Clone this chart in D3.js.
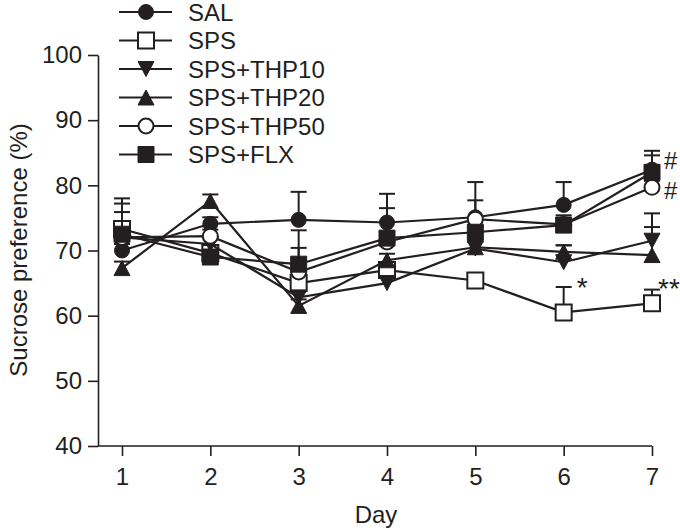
<!DOCTYPE html>
<html>
<head>
<meta charset="utf-8">
<script src="https://cdn.jsdelivr.net/npm/d3@7"></script>
<style>
  body { margin: 0; background: #fff; }
  text { font-family: "Liberation Sans", Arial, Helvetica, sans-serif; fill: #231f20; }
</style>
</head>
<body>
<svg id="chart" width="680" height="530"></svg>
<script>
// days and group means (sucrose preference, %)
var days = [1, 2, 3, 4, 5, 6, 7];
var groups = ["SAL", "SPS", "SPS+THP10", "SPS+THP20", "SPS+THP50", "SPS+FLX"];
var legendLabels = ["SAL", "SPS", "SPS+THP10", "SPS+THP20", "SPS+THP50", "SPS+FLX"];
var sal   = [70.0, 74.1, 74.7, 74.3, 75.1, 77.0, 82.4];
var sps   = [73.3, 69.6, 65.0, 67.0, 65.4, 60.5, 61.9];
var thp10 = [72.0, 71.0, 62.8, 65.0, 70.3, 68.2, 71.5];
var thp20 = [67.3, 77.6, 61.5, 68.5, 70.5, 69.8, 69.3];
var thp50 = [72.0, 72.2, 66.7, 71.3, 74.8, 74.0, 79.7];
var flx   = [72.5, 69.0, 67.9, 71.9, 72.8, 73.9, 82.0];
// upper error (SEM)
var salErr   = [1.0, 1.0, 4.3, 4.4, 5.4, 3.5, 2.9];
var spsErr   = [4.7, 1.0, 1.0, 1.0, 1.0, 3.9, 2.1];
var thp10Err = [5.2, 1.0, 1.0, 1.0, 1.0, 2.6, 4.2];
var thp20Err = [1.0, 1.0, 1.0, 1.0, 1.0, 1.0, 4.3];
var thp50Err = [1.0, 1.0, 6.4, 1.0, 2.9, 1.0, 1.0];
var flxErr   = [3.4, 1.0, 2.5, 4.6, 1.0, 1.5, 2.6];
var yTicks = [40, 50, 60, 70, 80, 90, 100];
// significance marks: [day, level, label]
var marks = [[6, 65.9, "*"], [7, 65.8, "**"], [7, 85.1, "#"], [7, 80.5, "#"]];

var series = [
  {name: groups[0], vals: sal,   err: salErr,   shape: "circle", open: false},
  {name: groups[1], vals: sps,   err: spsErr,   shape: "square", open: true},
  {name: groups[2], vals: thp10, err: thp10Err, shape: "down",   open: false},
  {name: groups[3], vals: thp20, err: thp20Err, shape: "up",     open: false},
  {name: groups[4], vals: thp50, err: thp50Err, shape: "circle", open: true},
  {name: groups[5], vals: flx,   err: flxErr,   shape: "square", open: false}
];

var svg = d3.select("#chart");
var ink = "#231f20";

var x = d3.scaleLinear().domain([1, 7]).range([122, 652]);
var y = d3.scaleLinear().domain([40, 100]).range([446, 55]);

function shapePath(s) {
  if (s == "circle") return "M-7.5,0A7.5,7.5 0 1,0 7.5,0A7.5,7.5 0 1,0 -7.5,0Z";
  if (s == "square") return "M-8,-8H8V8H-8Z";
  if (s == "up") return "M0,-7.5L8,7.5L-8,7.5Z";
  return "M0,7.5L8,-7.5L-8,-7.5Z";
}

function drawMarker(g, s, open) {
  g.append("path")
    .attr("d", shapePath(s))
    .attr("fill", open ? "#fff" : ink)
    .attr("stroke", ink)
    .attr("stroke-width", open ? 2 : 1);
}

// axes
var yAxis = d3.axisLeft(y).tickValues(yTicks).tickSize(10).tickSizeOuter(0).tickPadding(6)
  .tickFormat(d3.format("d"));
var gy = svg.append("g").attr("transform", "translate(98,0)").call(yAxis);
var xAxis = d3.axisBottom(x).tickValues(days).tickSize(10).tickSizeOuter(0).tickPadding(12)
  .tickFormat(d3.format("d"));
var gx = svg.append("g").attr("transform", "translate(0,446)").call(xAxis);
gx.select(".domain").attr("d", "M" + (x.range()[0] - 24) + ",0H" + x.range()[1]);
[gx, gy].forEach(function(g) {
  g.selectAll("path, line").attr("stroke", ink).attr("stroke-width", 1.6);
  g.selectAll("text").style("font-size", "24px").attr("fill", ink);
});

svg.append("text")
  .attr("transform", "translate(27,250) rotate(-90)")
  .attr("text-anchor", "middle")
  .style("font-size", "24px")
  .text("Sucrose preference (%)");
svg.append("text")
  .attr("x", 376).attr("y", 523)
  .attr("text-anchor", "middle")
  .style("font-size", "24px")
  .text("Day");

// data
var line = d3.line().x(function(d, i) { return x(days[i]); }).y(function(d) { return y(d); });
series.forEach(function(s) {
  var g = svg.append("g");
  g.append("path").attr("d", line(s.vals))
    .attr("fill", "none").attr("stroke", ink).attr("stroke-width", 2.2);
  s.vals.forEach(function(v, i) {
    var cx = x(days[i]), top = y(v + s.err[i]);
    g.append("line").attr("x1", cx).attr("x2", cx).attr("y1", y(v)).attr("y2", top)
      .attr("stroke", ink).attr("stroke-width", 2);
    g.append("line").attr("x1", cx - 8).attr("x2", cx + 8).attr("y1", top).attr("y2", top)
      .attr("stroke", ink).attr("stroke-width", 2);
  });
  s.vals.forEach(function(v, i) {
    var m = g.append("g").attr("transform", "translate(" + x(days[i]) + "," + y(v) + ")");
    drawMarker(m, s.shape, s.open);
  });
});

// significance marks, cap top sits at the level
marks.forEach(function(m) {
  var star = m[2].charAt(0) == "*";
  var dx = m[2] == "*" ? 13 : (m[2] == "**" ? 6 : 12);
  svg.append("text")
    .attr("x", x(m[0]) + dx)
    .attr("y", y(m[1]) + (star ? 20 : 17))
    .style("font-size", star ? "28px" : "24px")
    .text(m[2]);
});

// legend
var legend = svg.append("g");
series.forEach(function(s, i) {
  var ly = 12 + i * 28.5;
  legend.append("line").attr("x1", 119).attr("x2", 172).attr("y1", ly).attr("y2", ly)
    .attr("stroke", ink).attr("stroke-width", 2);
  drawMarker(legend.append("g").attr("transform", "translate(146," + ly + ")"), s.shape, s.open);
  legend.append("text").attr("x", 188).attr("y", ly + 8.5)
    .style("font-size", "24px").text(legendLabels[i]);
});
</script>
</body>
</html>
